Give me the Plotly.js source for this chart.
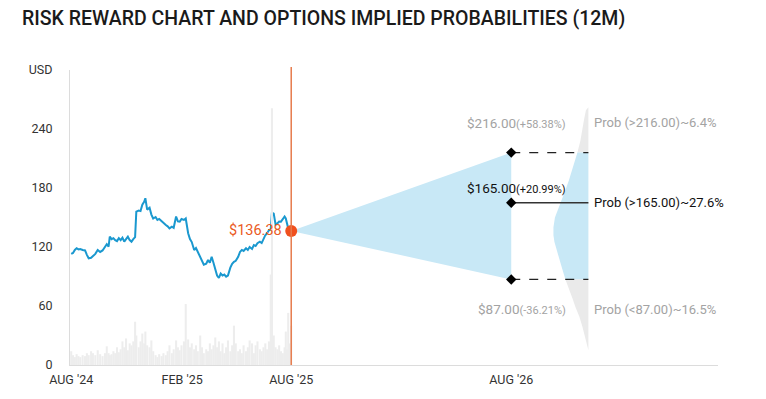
<!DOCTYPE html>
<html>
<head>
<meta charset="utf-8">
<script src="https://cdn.plot.ly/plotly-3.0.1.min.js"></script>
<style>html,body{margin:0;padding:0;background:#fff;}#chart{width:766px;height:399px;}</style>
</head>
<body>
<div id="chart"></div>
<script>
// ---- price history ----
const dates = ['2024-08-01','2024-08-04','2024-08-07','2024-08-10','2024-08-13','2024-08-16','2024-08-20','2024-08-24','2024-08-27','2024-08-30',
'2024-09-03','2024-09-06','2024-09-10','2024-09-14','2024-09-18','2024-09-22','2024-09-26','2024-09-29','2024-10-02','2024-10-04',
'2024-10-07','2024-10-10','2024-10-13','2024-10-16','2024-10-19','2024-10-22','2024-10-25','2024-10-28','2024-10-31','2024-11-03',
'2024-11-06','2024-11-09','2024-11-12','2024-11-15','2024-11-17','2024-11-21','2024-11-24','2024-11-27','2024-11-30','2024-12-02',
'2024-12-05','2024-12-09','2024-12-12','2024-12-15','2024-12-19','2024-12-22','2024-12-25','2024-12-29','2025-01-01','2025-01-05',
'2025-01-08','2025-01-11','2025-01-15','2025-01-18','2025-01-22','2025-01-25','2025-01-28','2025-01-31','2025-02-04','2025-02-07',
'2025-02-11','2025-02-14','2025-02-17','2025-02-21','2025-02-24','2025-02-27','2025-03-03','2025-03-06','2025-03-09','2025-03-13',
'2025-03-16','2025-03-19','2025-03-22','2025-03-25','2025-03-28','2025-03-31','2025-04-03','2025-04-06','2025-04-09','2025-04-12',
'2025-04-15','2025-04-18','2025-04-22','2025-04-25','2025-04-28','2025-05-01','2025-05-05','2025-05-08','2025-05-11','2025-05-14',
'2025-05-18','2025-05-21','2025-05-24','2025-05-28','2025-05-31','2025-06-03','2025-06-06','2025-06-10','2025-06-13','2025-06-16',
'2025-06-19','2025-06-22','2025-06-25','2025-06-28','2025-06-30','2025-07-03','2025-07-06','2025-07-09','2025-07-12','2025-07-15',
'2025-07-18','2025-07-21','2025-07-23','2025-07-25','2025-07-27','2025-07-30','2025-08-01'];
const prices = [113,114,117,118.7,117.5,118,117,116.5,112,108.5,
109,110.5,113,117,115,116.5,121,122.8,120.3,130.5,
128,129,127,126,129,127,129.5,125.4,128,130.5,
127,125.4,128,130,156,157,156.5,163,166,169.6,
158,160,153,149,150.5,147.5,148.5,146,144.5,142.4,
141,139,140.7,139.5,151,146,145.8,148.5,147.5,149,
134,128,125,117,119,115,110,105,102,103,
106.8,104,110,104,98.4,91,88.5,93,91,92,
89.8,91,99,103,105,106,110,115,117,116,
118.7,117,120,118,122,121,123.8,125.4,124,128,
132,134,137,138,155,154,143,144,146,145.8,
149,151,149,145,139,137.5,136.38];
const volumes = [14,10,8,11,9,8,10,9,12,10,
14,12,10,15,11,9,12,19,12,10,
11,14,12,18,13,16,24,18,27,15,
22,20,24,44,30,18,24,32,22,34,
20,18,25,14,10,8,11,9,12,10,
14,20,12,16,25,18,15,20,24,62,
26,18,22,16,20,14,30,18,12,16,
14,22,16,20,28,18,24,14,22,12,
18,25,14,20,40,22,14,16,12,20,
14,18,25,22,12,20,24,16,14,18,
22,16,24,92,261,30,18,16,20,14,
12,18,34,16,53,22,40];

// ---- current price & implied targets (12M) ----
const lastDate = '2025-08-01';
const lastPrice = 136.38;
const targetDate = '2026-08-01';
const targetHigh = 216.00, targetHighPct = '+58.38%';
const targetMid = 165.00, targetMidPct = '+20.99%';
const targetLow = 87.00, targetLowPct = '-36.21%';
const probHigh = '6.4%', probMid = '27.6%', probLow = '16.5%';

// ---- implied distribution (price level vs relative density) ----
const densPrices = [262,259,250,239,228,216,207,198,188,178,168,158,150,140,132,125,117,107,97,87,78,68,59,49,39,29,19,15];
const densRel    = [0,0.071,0.123,0.171,0.229,0.314,0.386,0.457,0.557,0.657,0.771,0.886,0.957,1.0,1.0,0.971,0.9,0.814,0.743,0.657,0.557,0.457,0.371,0.257,0.171,0.1,0.037,0];

// ---- axis ticks ----
const xTickVals = ['2024-08-01','2025-02-01','2025-08-01','2026-08-01'];
const xTickText = ["AUG '24","FEB '25","AUG '25","AUG '26"];
const yTickVals = [0,60,120,180,240,300];
const yTickText = ['0','60','120','180','240','USD'];

// ---- styling ----
const FONT = 'Roboto, "Noto Sans", sans-serif';
const distEdgeDate = '2026-12-07';
const maxWidthDays = 58;
const DAY = 86400000;
const edgeMs = Date.parse(distEdgeDate);
const BLUE_FILL = 'rgb(200,232,246)';
const GRAY_FILL = 'rgb(234,234,234)';

function segment(lo, hi, color) {
  const xs = [], ys = [];
  densPrices.forEach((p, i) => {
    if (p >= lo && p <= hi) { xs.push(edgeMs - densRel[i] * maxWidthDays * DAY); ys.push(p); }
  });
  xs.push(edgeMs, edgeMs); ys.push(ys[ys.length - 1], ys[0]);
  return {x: xs, y: ys, type: 'scatter', mode: 'lines', fill: 'toself', fillcolor: color,
          line: {width: 0, color: color}, hoverinfo: 'skip', showlegend: false};
}

const traces = [
  {x: dates, y: volumes, type: 'bar', yaxis: 'y2', width: 3.4 * DAY, marker: {color: 'rgb(237,237,237)', line: {width: 0}},
   hoverinfo: 'skip', showlegend: false},
  {x: [lastDate, targetDate, targetDate, lastDate], y: [lastPrice, targetHigh, targetLow, lastPrice], type: 'scatter', mode: 'lines',
   fill: 'toself', fillcolor: BLUE_FILL, line: {width: 0, color: BLUE_FILL}, hoverinfo: 'skip', showlegend: false},
  segment(targetHigh, 1000, GRAY_FILL),
  segment(targetLow, targetHigh, BLUE_FILL),
  segment(0, targetLow, GRAY_FILL),
  {x: dates, y: prices, type: 'scatter', mode: 'lines', line: {color: '#1a98cf', width: 2}, showlegend: false},
  {x: [targetDate, distEdgeDate], y: [targetHigh, targetHigh], type: 'scatter', mode: 'lines', line: {color: '#222', width: 1.2, dash: 'dash'}, showlegend: false},
  {x: [targetDate, distEdgeDate], y: [targetLow, targetLow], type: 'scatter', mode: 'lines', line: {color: '#222', width: 1.2, dash: 'dash'}, showlegend: false},
  {x: [targetDate, distEdgeDate], y: [targetMid, targetMid], type: 'scatter', mode: 'lines', line: {color: '#333', width: 1.5}, showlegend: false},
  {x: [targetDate, targetDate, targetDate], y: [targetHigh, targetMid, targetLow], type: 'scatter', mode: 'markers',
   marker: {symbol: 'diamond', size: 8, color: '#000'}, showlegend: false},
  {x: [lastDate], y: [lastPrice], type: 'scatter', mode: 'markers', marker: {size: 12, color: '#f0501e'}, showlegend: false}
];

const GRAY_TXT = '#a3a3a3';
function priceLabel(v, pct, color, shift) {
  return {x: targetDate, y: v, xref: 'x', yref: 'y', xanchor: 'right', yanchor: 'middle', xshift: 57, yshift: shift,
    text: '$' + v.toFixed(2) + '<span style="font-size:11px">(' + pct + ')</span>', showarrow: false,
    font: {family: FONT, size: 13.5, color: color}};
}
function probLabel(txt, v, color, shift, size) {
  return {x: distEdgeDate, y: v, xref: 'x', yref: 'y', xanchor: 'left', yanchor: 'middle', xshift: 4, yshift: shift,
    text: txt, showarrow: false, font: {family: FONT, size: size, color: color}};
}

const layout = {
  width: 766, height: 399,
  margin: {l: 70, r: 48, t: 70, b: 34},
  paper_bgcolor: '#fff', plot_bgcolor: '#fff',
  font: {family: FONT, color: '#333', size: 12},
  title: {text: 'RISK REWARD CHART AND OPTIONS IMPLIED PROBABILITIES (12M)', x: 22/766, xanchor: 'left',
          y: 1 - 18/399, yanchor: 'middle', yref: 'container',
          font: {family: FONT, size: 19.5, color: '#1a1a1a', weight: 500}},
  xaxis: {type: 'date', range: ['2024-07-30', '2027-07-10'], tickvals: xTickVals, ticktext: xTickText,
          showgrid: false, zeroline: false, showline: true, linecolor: '#dcdcdc', linewidth: 1, ticks: '',
          ticklabelstandoff: 3,
          tickfont: {family: FONT, size: 12.5, color: '#333'}, fixedrange: true},
  yaxis: {range: [0, 300], tickvals: yTickVals, ticktext: yTickText, showgrid: false, zeroline: false,
          showline: true, linecolor: '#dcdcdc', linewidth: 1, ticks: '', ticklabelstandoff: 14,
          tickfont: {family: FONT, size: 12.5, color: '#333'}, fixedrange: true},
  yaxis2: {range: [0, 300], overlaying: 'y', visible: false, fixedrange: true},
  showlegend: false,
  shapes: [{type: 'line', xref: 'x', yref: 'paper', x0: lastDate, x1: lastDate, y0: 0, y1: 1.01,
            line: {color: '#e77b4c', width: 1.5}}],
  annotations: [
    {x: lastDate, y: lastPrice, xref: 'x', yref: 'y', xanchor: 'right', yanchor: 'middle', xshift: -7,
     text: '$' + lastPrice.toFixed(2), showarrow: false, font: {family: FONT, size: 14.5, color: '#ea5a24'}},
    priceLabel(targetHigh, targetHighPct, GRAY_TXT, 30),
    priceLabel(targetMid, targetMidPct, '#111', 15),
    priceLabel(targetLow, targetLowPct, GRAY_TXT, -30),
    probLabel('Prob (&gt;' + targetHigh.toFixed(2) + ')~' + probHigh, targetHigh, GRAY_TXT, 30, 13),
    probLabel('Prob (&gt;' + targetMid.toFixed(2) + ')~' + probMid, targetMid, '#111', 0, 13),
    probLabel('Prob (&lt;' + targetLow.toFixed(2) + ')~' + probLow, targetLow, GRAY_TXT, -30, 13)
  ]
};

Plotly.newPlot('chart', traces, layout, {displayModeBar: false, staticPlot: true});
</script>
</body>
</html>
